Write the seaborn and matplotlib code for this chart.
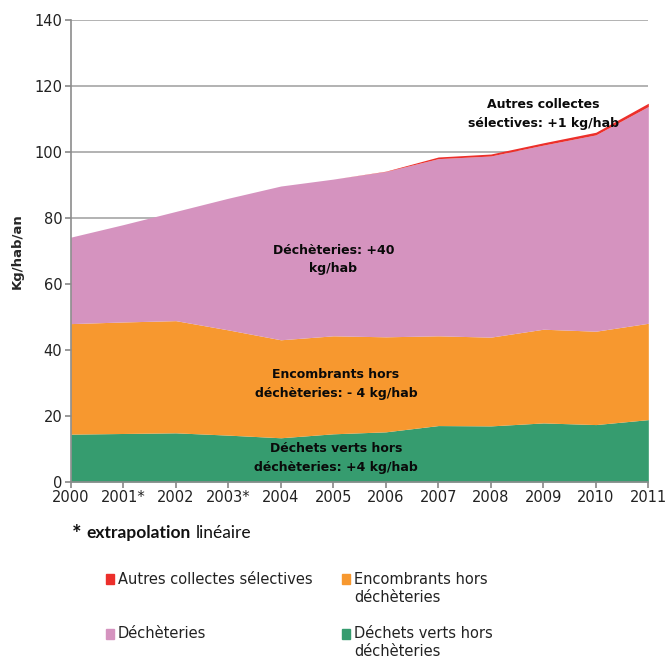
import numpy as np
import matplotlib
matplotlib.use("Agg")
import matplotlib.pyplot as plt
import seaborn as sns
from matplotlib.patches import Rectangle

# données (kg/hab/an)
annees = [2000, 2001, 2002, 2003, 2004, 2005, 2006, 2007, 2008, 2009, 2010, 2011]
etiquettes_annees = ["2000", "2001*", "2002", "2003*", "2004", "2005", "2006",
                     "2007", "2008", "2009", "2010", "2011"]
dechets_verts = [14.5, 14.7, 14.9, 14.2, 13.4, 14.6, 15.2, 17.1, 17.0, 17.9, 17.4, 18.9]
encombrants = [33.5, 33.8, 34.0, 31.9, 29.7, 29.7, 28.8, 27.2, 26.9, 28.4, 28.3, 29.2]
decheteries = [26.2, 29.5, 33.1, 39.9, 46.6, 47.5, 50.1, 53.7, 54.9, 55.8, 59.5, 65.7]
autres_collectes = [0.0, 0.0, 0.0, 0.0, 0.0, 0.0, 0.1, 0.5, 0.6, 0.7, 0.8, 1.0]

couleurs = {
    "verts": "#369c6f",
    "encombrants": "#f7982f",
    "decheteries": "#d593bf",
    "autres": "#ec2f2b",
}

sns.set_theme(style="white")
plt.rcParams["font.family"] = ["DejaVu Sans"]

fig = plt.figure(figsize=(6.67, 6.58), dpi=100)
ax = fig.add_axes([0.106, 0.2675, 0.866, 0.702])

ax.stackplot(annees, dechets_verts, encombrants, decheteries, autres_collectes,
             colors=[couleurs["verts"], couleurs["encombrants"],
                     couleurs["decheteries"], couleurs["autres"]],
             linewidth=0, zorder=2)

ax.set_xlim(2000, 2011)
ax.set_ylim(0, 140)
ax.set_yticks(range(0, 141, 20))
ax.set_xticks(annees)
ax.set_xticklabels(etiquettes_annees)
ax.yaxis.grid(True, color="#a6a6a6", lw=1.2, zorder=0)
ax.set_axisbelow(True)
for s in ["top", "right"]:
    ax.spines[s].set_visible(False)
for s in ["left", "bottom"]:
    ax.spines[s].set_color("#8c8c8c")
    ax.spines[s].set_linewidth(1.2)
    ax.spines[s].set_zorder(4)
ax.tick_params(axis="both", which="both", length=4, color="#8c8c8c",
               labelsize=10.5, labelcolor="#222222", pad=2,
               left=True, bottom=True)
ax.set_ylabel("Kg/hab/an", fontsize=9.5, fontweight="bold", labelpad=8)

txt = dict(ha="center", va="center", fontsize=9, fontweight="bold",
           color="#0a0a0a", linespacing=1.55, zorder=5)
ax.text(2005.0, 67.5, "Déchèteries: +40\nkg/hab", **txt)
ax.text(2005.05, 29.7, "Encombrants hors\ndéchèteries: - 4 kg/hab", **txt)
ax.text(2005.05, 7.2, "Déchets verts hors\ndéchèteries: +4 kg/hab", **txt)
ax.text(2009.0, 111.5, "Autres collectes\nsélectives: +1 kg/hab", **txt)

# note de bas : "* extrapolation linéaire"
renderer = fig.canvas.get_renderer()
x_px = 72
y_fig = (658 - 533) / 658
morceaux = [("*", "bold", 16, 5, 1), ("extrapolation", "bold", 12.5, 5, 0),
            ("linéaire", "normal", 12.5, 0, 0)]
for mot, poids, taille, espace, decal in morceaux:
    t = fig.text(x_px / 667, y_fig - decal / 658, mot, fontsize=taille, fontweight=poids,
                 family=["Lato", "DejaVu Sans"], color="#111111",
                 ha="left", va="center")
    x_px += t.get_window_extent(renderer).width + espace

# légende faite à la main (2 colonnes, poignée alignée sur la 1re ligne)
entrees = [
    ("Autres collectes sélectives", couleurs["autres"], 106, 579),
    ("Encombrants hors\ndéchèteries", couleurs["encombrants"], 342, 579),
    ("Déchèteries", couleurs["decheteries"], 106, 634),
    ("Déchets verts hors\ndéchèteries", couleurs["verts"], 342, 634),
]
for label, couleur, x0, y0 in entrees:
    fig.add_artist(Rectangle((x0 / 667, (658 - y0 - 5) / 658), 8 / 667, 10 / 658,
                             transform=fig.transFigure, color=couleur))
    for i, ligne in enumerate(label.split("\n")):
        fig.text((x0 + 12) / 667, (658 - y0 - 18 * i) / 658, ligne,
                 fontsize=10.5, color="#222222", ha="left", va="center")

fig.savefig("out.png", dpi=100)
